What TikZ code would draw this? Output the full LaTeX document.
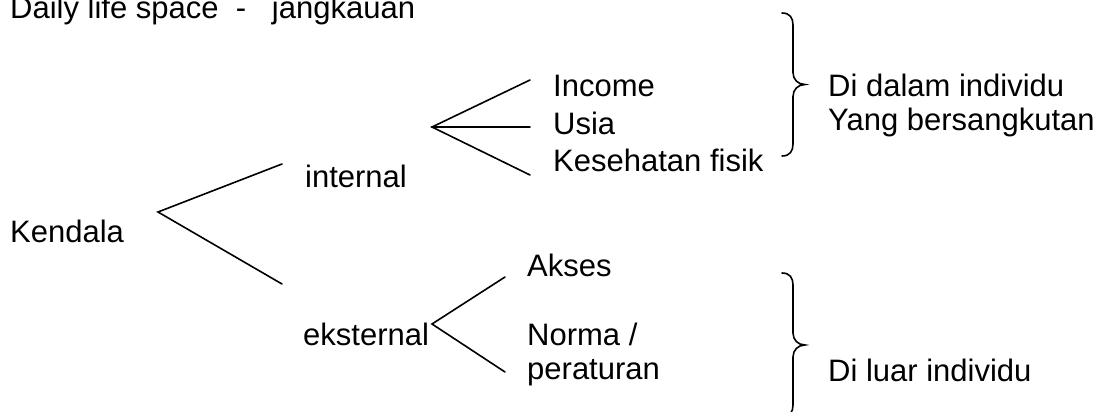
\documentclass[tikz,border=0pt]{standalone}
\usepackage{fontspec}
\setmainfont{Liberation Sans}
\tikzset{
txt/.style={anchor=base west,inner sep=0pt,font=\fontsize{31}{34}\selectfont,align=left},
fork/.style={line width=1.6pt,line cap=round},
curly/.style={line width=1.6pt,line cap=round}}

\begin{document}
\begin{tikzpicture}[x=1pt,y=-1pt]
\useasboundingbox (0,0) rectangle (1105,412);
\node[txt] (daily) at (10,19) {Daily life space \ - \ \ jangkauan};
\node[txt] (kendala) at (10,242) {Kendala};
\node[txt] (internal) at (305,187) {internal};
\node[txt] (eksternal) at (303,345) {eksternal};
\node[txt] (income) at (553,96) {Income};
\node[txt] (usia) at (553,134) {Usia};
\node[txt] (fisik) at (553,171) {Kesehatan fisik};
\node[txt] (akses) at (527,276) {Akses};
\node[txt] (norma) at (527,379) {Norma /\\peraturan};
\node[txt] (dalam) at (828,130) {Di dalam individu\\Yang\ bersangkutan};
\node[txt] (luar) at (828,381) {Di luar individu};
\coordinate (k0) at (158,212);
\coordinate (k1) at (282,164);
\coordinate (k2) at (282,284);
\coordinate (i0) at (432,127);
\coordinate (i1) at (530,80);
\coordinate (i2) at (530,127);
\coordinate (i3) at (530,175);
\coordinate (e0) at (432,324);
\coordinate (e1) at (505,277);
\coordinate (e2) at (505,372);
\coordinate (brA) at (782,13);
\coordinate (brB) at (782,273);
\draw[fork] (k1)--(k0)--(k2);
\draw[fork] (i1)--(i0)--(i3);
\draw[fork] (i0)--(i2);
\draw[fork] (e1)--(e0)--(e2);
\draw[curly] (brA) .. controls +(8,0) and +(0,-7) .. ++(11,12) -- ++(0,47.5) .. controls +(0,7) and +(-7,0) .. ++(12,12) .. controls +(-7,0) and +(0,-7) .. ++(-12,12) -- ++(0,47.5) .. controls +(0,7) and +(8,0) .. ++(-11,12);
\draw[curly] (brB) .. controls +(8,0) and +(0,-7) .. ++(11,12) -- ++(0,48) .. controls +(0,7) and +(-7,0) .. ++(12,12) .. controls +(-7,0) and +(0,-7) .. ++(-12,12) -- ++(0,48) .. controls +(0,7) and +(8,0) .. ++(-11,12);
\end{tikzpicture}
\end{document}
